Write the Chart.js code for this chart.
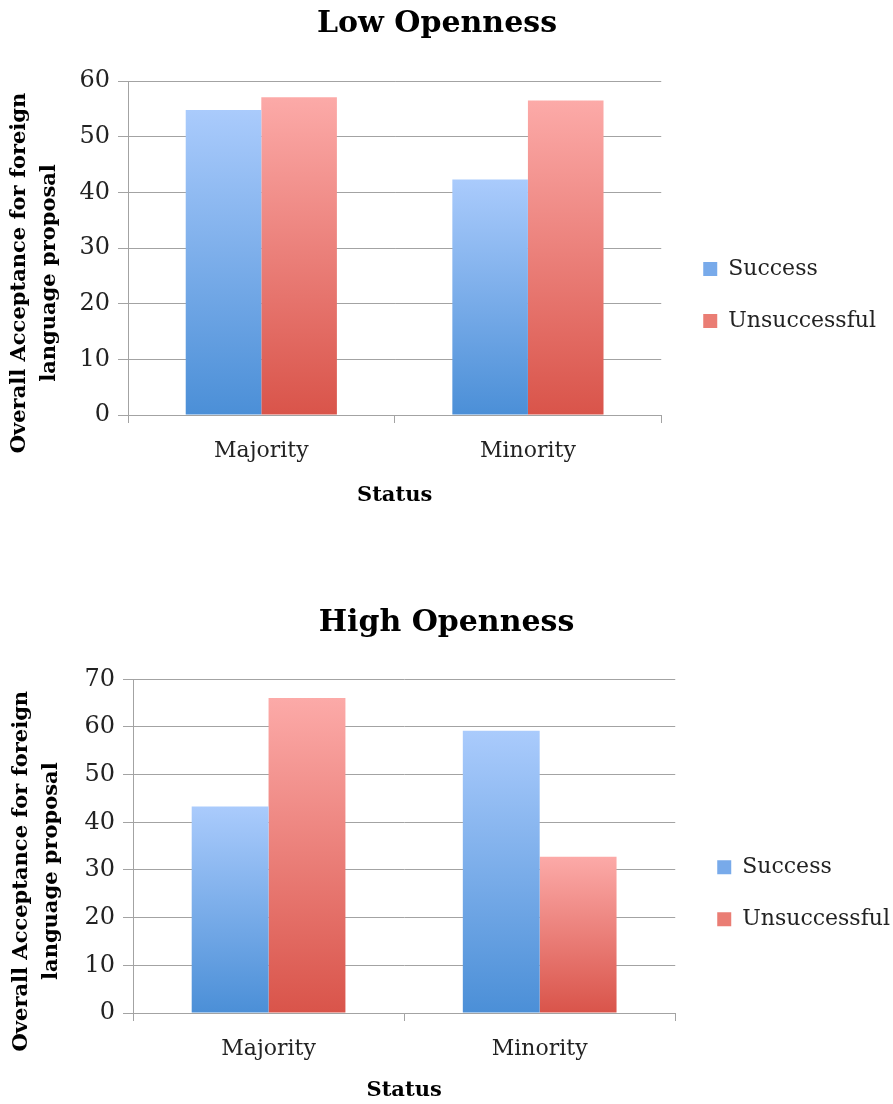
<!DOCTYPE html>
<html lang="en">
<head>
<meta charset="UTF-8">
<title>Overall Acceptance - Low / High Openness</title>
<script src="https://cdn.jsdelivr.net/npm/chart.js@4.4.0/dist/chart.umd.min.js"></script>
<style>
    html, body { margin: 0; padding: 0; background: #fff; overflow: hidden; }
    .panel { position: absolute; left: 0; width: 893px; height: 506px; }
    #lowPanel { top: 0; }
    #highPanel { top: 598px; }
</style>
</head>
<body>
<div class="panel" id="lowPanel"><canvas id="lowChart" width="893" height="506"></canvas></div>
<div class="panel" id="highPanel"><canvas id="highChart" width="893" height="506"></canvas></div>

<script>
// data
const categories = ['Majority', 'Minority'];
const seriesNames = ['Success', 'Unsuccessful'];
const lowSuccess = [54.8, 42.3];
const lowUnsuccessful = [57.1, 56.5];
const highSuccess = [43.3, 59.2];
const highUnsuccessful = [66.1, 32.8];
const lowTicks = [0, 10, 20, 30, 40, 50, 60];
const highTicks = [0, 10, 20, 30, 40, 50, 60, 70];
const yTitleLines = ['Overall Acceptance for foreign', 'language proposal'];
const xTitle = 'Status';

const FONT = "'DejaVu Serif', 'Liberation Serif', serif";
const GRID = '#a3a3a3';
const BLUE = ['#aacbfc', '#4b8fd7'];
const RED = ['#fcaaa8', '#d9544a'];

// each bar gets its own top-to-base gradient
function barGradient(colors) {
    return function (ctx) {
        const chart = ctx.chart;
        if (ctx.type !== 'data' || !chart.chartArea || !ctx.parsed) return colors[1];
        const y = chart.scales.y;
        const top = y.getPixelForValue(ctx.parsed.y);
        const base = y.getPixelForValue(0);
        if (!isFinite(top) || top === base) return colors[1];
        const g = chart.ctx.createLinearGradient(0, top, 0, base);
        g.addColorStop(0, colors[0]);
        g.addColorStop(1, colors[1]);
        return g;
    };
}

// moves legend / title blocks after layout
const nudge = {
    id: 'nudge',
    afterLayout(chart, args, opts) {
        const lg = chart.legend;
        if (lg) {
            lg.left += opts.legendDx; lg.right += opts.legendDx;
            lg.top += opts.legendDy; lg.bottom += opts.legendDy;
        }
        const tb = chart.titleBlock;
        if (tb) { tb.left += opts.titleDx; tb.right += opts.titleDx; }
    }
};

// two-line rotated y axis title (scale title would squeeze it to the axis height)
const sideTitle = {
    id: 'sideTitle',
    afterDraw(chart, args, opts) {
        const { ctx, chartArea } = chart;
        ctx.save();
        ctx.font = 'bold ' + opts.size + 'px ' + FONT;
        ctx.fillStyle = '#000';
        ctx.textAlign = 'center';
        ctx.textBaseline = 'middle';
        opts.lines.forEach((line, i) => {
            ctx.save();
            ctx.translate(opts.x + i * opts.gap, (chartArea.top + chartArea.bottom) / 2 + opts.dy);
            ctx.rotate(-Math.PI / 2);
            ctx.fillText(line, 0, 0);
            ctx.restore();
        });
        ctx.restore();
    }
};

function makeChart(id, cfg) {
    const swatch = ['#78aaea', '#ea7d74'];
    return new Chart(document.getElementById(id), {
        type: 'bar',
        data: {
            labels: categories,
            datasets: [
                { label: seriesNames[0], data: cfg.success, backgroundColor: barGradient(BLUE), borderWidth: 0 },
                { label: seriesNames[1], data: cfg.unsuccessful, backgroundColor: barGradient(RED), borderWidth: 0 }
            ]
        },
        options: {
            responsive: false,
            animation: false,
            events: [],
            layout: { padding: { left: 0, right: cfg.padRight, top: 0, bottom: 0 } },
            datasets: { bar: { categoryPercentage: 0.567, barPercentage: 1.0 } },
            scales: {
                x: {
                    grid: { drawOnChartArea: false, drawTicks: true, tickLength: 8, color: GRID, offset: true },
                    border: { display: true, color: GRID },
                    ticks: { font: { family: FONT, size: 22 }, color: '#222', padding: 15 },
                    title: { display: true, text: xTitle, color: '#000', font: { family: FONT, size: 21, weight: 'bold' }, padding: { top: 0, bottom: cfg.statusPad } },
                    afterFit(scale) { scale.height = 91; }
                },
                y: {
                    min: 0,
                    max: cfg.ticks[cfg.ticks.length - 1],
                    grid: { color: GRID, lineWidth: 1, drawTicks: true, tickLength: 10 },
                    border: { display: true, color: GRID },
                    ticks: { font: { family: FONT, size: 24 }, color: '#222', padding: 8 },
                    afterBuildTicks(scale) { scale.ticks = cfg.ticks.map(v => ({ value: v })); },
                    afterFit(scale) { scale.width = cfg.axisWidth; }
                }
            },
            plugins: {
                tooltip: { enabled: false },
                title: {
                    display: true,
                    text: cfg.title,
                    color: '#000',
                    font: { family: FONT, size: 30, weight: 'bold' },
                    padding: { top: cfg.titleTop, bottom: cfg.titleBottom }
                },
                legend: {
                    position: 'right',
                    fullSize: false,
                    labels: {
                        boxWidth: 14,
                        boxHeight: 14,
                        padding: 30,
                        color: '#222',
                        font: { family: FONT, size: 22 },
                        generateLabels(chart) {
                            const items = Chart.defaults.plugins.legend.labels.generateLabels(chart);
                            items.forEach((it, i) => { it.fillStyle = swatch[i]; it.strokeStyle = swatch[i]; it.lineWidth = 0; });
                            return items;
                        }
                    }
                },
                nudge: { legendDx: cfg.legendDx, legendDy: cfg.legendDy, titleDx: cfg.titleDx },
                sideTitle: { lines: yTitleLines, size: 21, x: cfg.yTitleX, gap: 30, dy: 25 }
            }
        },
        plugins: [nudge, sideTitle]
    });
}

makeChart('lowChart', {
    title: 'Low Openness',
    success: lowSuccess,
    unsuccessful: lowUnsuccessful,
    ticks: lowTicks,
    axisWidth: 128,
    padRight: 19,
    titleTop: 6,
    titleBottom: 39,
    statusPad: -2,
    legendDx: 12,
    legendDy: 47,
    titleDx: 0,
    yTitleX: 20
});

makeChart('highChart', {
    title: 'High Openness',
    success: highSuccess,
    unsuccessful: highUnsuccessful,
    ticks: highTicks,
    axisWidth: 133,
    padRight: 5,
    titleTop: 7.7,
    titleBottom: 37.6,
    statusPad: 1,
    legendDx: 12,
    legendDy: 47,
    titleDx: 2.5,
    yTitleX: 22
});
</script>
</body>
</html>
